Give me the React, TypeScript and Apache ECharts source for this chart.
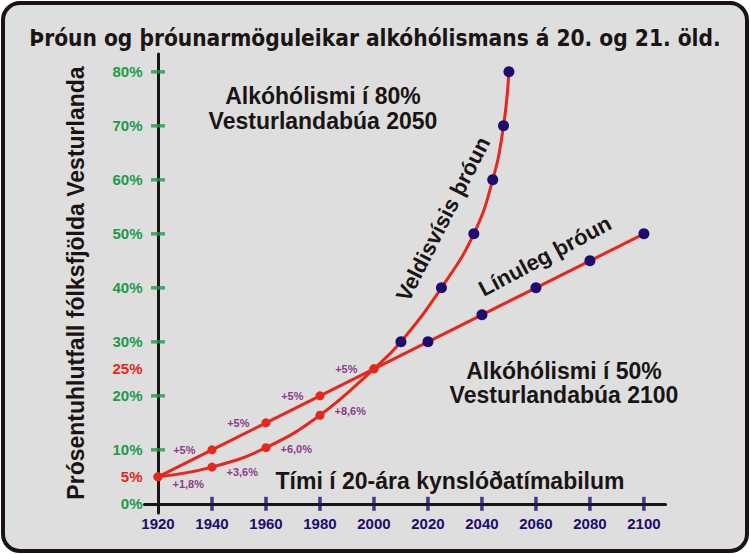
import React, { useEffect, useRef } from "react";
import * as echarts from "echarts";

// ---- data ----
const expYears = [1920, 1940, 1960, 1980, 2000, 2010, 2025, 2037, 2044, 2048, 2050];
const expValues = [5, 6.8, 10.4, 16.4, 25, 30, 40, 50, 60, 70, 80];
const expIncrements = ["+1,8%", "+3,6%", "+6,0%", "+8,6%"]; // after 1920,1940,1960,1980

const linYears = [1920, 1940, 1960, 1980, 2000, 2020, 2040, 2060, 2080, 2100];
const linValues = [5, 10, 15, 20, 25, 30, 35, 40, 45, 50];
const linIncrements = ["+5%", "+5%", "+5%", "+5%"]; // at 1940..2000

const xTickYears = [1940, 1960, 1980, 2000, 2020, 2040, 2060, 2080, 2100];
const xLabelYears = [1920, 1940, 1960, 1980, 2000, 2020, 2040, 2060, 2080, 2100];
const yTickValues = [10, 20, 30, 40, 50, 60, 70, 80];
const yLabelValues = [0, 5, 10, 20, 25, 30, 40, 50, 60, 70, 80];
const yHighlighted = [5, 25];

const BASE_YEAR = 1920;
const LAST_OBSERVED = 2000;

const TITLE = "Þróun og þróunarmöguleikar alkóhólismans á 20. og 21. öld.";
const Y_NAME = "Prósentuhlutfall fólksfjölda Vesturlanda";
const X_NAME = "Tími í 20-ára kynslóðatímabilum";

const RED = "#e8261c";
const NAVY = "#1e0c6e";
const GREEN = "#1c9a4a";
const PURPLE = "#8e3a8c";
const FONT = '"Liberation Sans", Arial, sans-serif';
const TITLE_FONT = '"DejaVu Sans Condensed", "Liberation Sans Narrow", sans-serif';

function buildPoints(years: number[], values: number[]) {
  return years.map((yr, i) => {
    const observed = yr <= LAST_OBSERVED;
    return {
      value: [yr - BASE_YEAR, values[i]],
      symbolSize: observed ? 9 : 11,
      itemStyle: { color: observed ? RED : NAVY },
    };
  });
}

export default function App() {
  const ref = useRef<HTMLDivElement>(null);
  useEffect(() => {
    if (!ref.current) return;
    const chart = echarts.init(ref.current, undefined, { renderer: "svg" });

    const expOffsets = [7, 5, 1, -4];
    const expData = buildPoints(expYears, expValues).map((d, i) => {
      if (i < expIncrements.length) {
        return {
          ...d,
          label: {
            show: true,
            formatter: expIncrements[i],
            position: "right",
            offset: [5, expOffsets[i]],
          },
        };
      }
      return d;
    });
    const linData = buildPoints(linYears, linValues).map((d, i) => {
      if (i >= 1 && i <= linIncrements.length) {
        return {
          ...d,
          label: {
            show: true,
            formatter: linIncrements[i - 1],
            position: "left",
            distance: 12,
          },
        };
      }
      return d;
    });

    const annotationLabel = {
      color: PURPLE,
      fontFamily: FONT,
      fontWeight: "bold",
      fontSize: 11,
    };

    const bigText = (text: string, x: number, y: number, size: number, extra: any = {}) => ({
      type: "text",
      x,
      y,
      z: 10,
      silent: true,
      ...extra,
      style: {
        text,
        font: `bold ${size}px ${FONT}`,
        fill: "#1a1414",
        align: "center",
        verticalAlign: "middle",
        ...(extra.style || {}),
      },
    });

    const option: any = {
      animation: false,
      backgroundColor: "#ffffff",
      grid: { left: 144.5, top: 54, width: 521, height: 459, containLabel: false },
      xAxis: {
        type: "value",
        min: -5,
        max: 188,
        axisLine: { show: true, onZero: true, lineStyle: { color: "#1a1414", width: 3 } },
        axisTick: { show: false },
        splitLine: { show: false },
        axisLabel: {
          show: true,
          customValues: xLabelYears.map((y) => y - BASE_YEAR),
          formatter: (v: number) => String(v + BASE_YEAR),
          color: NAVY,
          fontFamily: FONT,
          fontWeight: "bold",
          fontSize: 15,
          margin: 3,
        },
      },
      yAxis: {
        type: "value",
        min: -1.7,
        max: 83.3,
        axisLine: { show: true, onZero: true, lineStyle: { color: "#1a1414", width: 3 } },
        axisTick: { show: false },
        splitLine: { show: false },
        axisLabel: {
          show: true,
          customValues: yLabelValues,
          formatter: (v: number) => v + "%",
          color: (v: any) => (yHighlighted.indexOf(Number(v)) >= 0 ? RED : GREEN),
          fontFamily: FONT,
          fontWeight: "bold",
          fontSize: 15,
          margin: 2,
        },
      },
      series: [
        {
          type: "scatter",
          silent: true,
          symbol: "rect",
          symbolSize: [3.5, 14],
          itemStyle: { color: NAVY },
          data: xTickYears.map((y) => [y - BASE_YEAR, 0]),
          z: 1,
        },
        {
          type: "scatter",
          silent: true,
          symbol: "rect",
          symbolSize: [14, 3.5],
          itemStyle: { color: GREEN },
          data: yTickValues.map((v) => [0, v]),
          z: 1,
        },
        {
          name: "Veldisvísis þróun",
          type: "line",
          silent: true,
          smooth: 0.45,
          symbol: "circle",
          lineStyle: { color: RED, width: 3 },
          label: annotationLabel,
          data: expData,
          z: 3,
        },
        {
          name: "Línuleg þróun",
          type: "line",
          silent: true,
          symbol: "circle",
          lineStyle: { color: RED, width: 3 },
          label: annotationLabel,
          data: linData,
          z: 3,
        },
      ],
      graphic: [
        {
          type: "rect",
          z: -10,
          silent: true,
          shape: { x: 3, y: 3, width: 744, height: 548, r: 17 },
          style: { fill: "#dedede", stroke: "#1a1311", lineWidth: 4 },
        },
        {
          type: "text",
          x: 375,
          y: 38,
          z: 10,
          silent: true,
          style: {
            text: TITLE,
            font: `bold 22.5px ${TITLE_FONT}`,
            fill: "#1a1414",
            align: "center",
            verticalAlign: "middle",
          },
        },
        bigText(Y_NAME, 76, 283, 23, { rotation: Math.PI / 2 }),
        bigText(X_NAME, 450, 481, 23),
        bigText("Alkóhólismi í 80%\nVesturlandabúa 2050", 323, 108, 23, { style: { lineHeight: 25 } }),
        bigText("Alkóhólismi í 50%\nVesturlandabúa 2100", 564, 383, 23, { style: { lineHeight: 24 } }),
        bigText("Veldisvísis þróun", 443, 219, 22, { rotation: (63 * Math.PI) / 180 }),
        bigText("Línuleg þróun", 545, 256, 22, { rotation: (28 * Math.PI) / 180 }),
      ],
    };
    chart.setOption(option);
    return () => chart.dispose();
  }, []);

  return (
    <div
      ref={ref}
      style={{ position: "fixed", left: 0, top: 0, width: 750, height: 554 }}
    />
  );
}
